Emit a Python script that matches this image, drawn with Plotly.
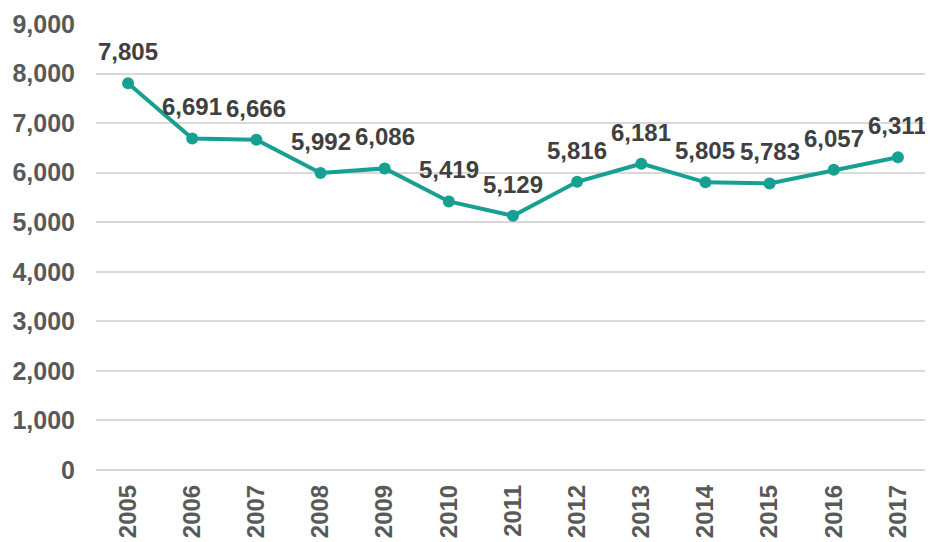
import plotly.graph_objects as go

years = ["2005", "2006", "2007", "2008", "2009", "2010", "2011", "2012", "2013", "2014", "2015", "2016", "2017"]
values = [7805, 6691, 6666, 5992, 6086, 5419, 5129, 5816, 6181, 5805, 5783, 6057, 6311]
y_ticks = [0, 1000, 2000, 3000, 4000, 5000, 6000, 7000, 8000, 9000]

teal = "#17A092"
font_family = "Liberation Sans, Arial, sans-serif"
idx = list(range(len(years)))

fig = go.Figure()
fig.add_trace(go.Scatter(
    x=idx, y=values, mode="lines+markers",
    line=dict(color=teal, width=4),
    marker=dict(color=teal, size=12),
    hoverinfo="skip", showlegend=False, cliponaxis=False,
))

annotations = []
for i, v in zip(idx, values):
    annotations.append(dict(
        x=i, y=v, xref="x", yref="y", text="<b>{:,}</b>".format(v),
        showarrow=False, yanchor="bottom", xanchor="center", yshift=16,
        font=dict(family=font_family, size=24, color="#404040"),
    ))

fig.update_layout(
    width=933, height=542,
    margin=dict(l=88, r=11, t=16, b=80),
    paper_bgcolor="white", plot_bgcolor="white",
    annotations=annotations,
    xaxis=dict(
        range=[-0.5, 12.5], tickvals=idx, ticktext=years,
        tickangle=-90, showgrid=False, zeroline=False, showline=False,
        tickfont=dict(family=font_family, size=24, color="#595959", weight="bold"),
        ticks="", ticklabelstandoff=9, automargin=False,
    ),
    yaxis=dict(
        range=[0, 9000], tickvals=y_ticks,
        ticktext=["{:,}".format(t) for t in y_ticks],
        showgrid=True, gridcolor="#D9D9D9", gridwidth=1.5,
        zeroline=True, zerolinecolor="#D9D9D9", zerolinewidth=1.5,
        showline=False, ticks="", automargin=False,
        tickfont=dict(family=font_family, size=25, color="#595959", weight="bold"),
        ticklabelstandoff=20,
    ),
)

fig.write_html("out.html")
